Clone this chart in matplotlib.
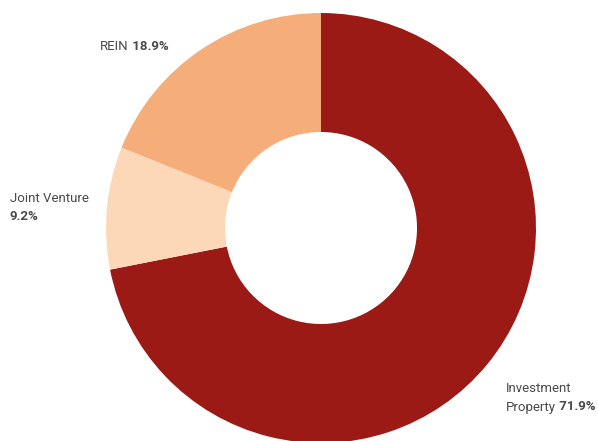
import matplotlib
matplotlib.use("Agg")
import matplotlib.pyplot as plt

labels = ["Investment Property", "Joint Venture", "REIN"]
values = [71.9, 9.2, 18.9]
colors = ["#9b1a16", "#fcd8b8", "#f5ad7a"]

plt.rcParams["font.family"] = ["Roboto", "DejaVu Sans"]
text_color = "#4a4a4a"

fig = plt.figure(figsize=(5.98, 4.41), dpi=100)
ax = fig.add_axes([0, 0, 1, 1])

# pixel-like coordinates, y up
cx, cy, r = 321, 441 - 228, 215
ax.pie(values, colors=colors, startangle=90, counterclock=False,
       center=(cx, cy), radius=r,
       wedgeprops=dict(width=r - 96, linewidth=0))
ax.set_xlim(0, 598)
ax.set_ylim(0, 441)
ax.set_aspect("equal")
ax.axis("off")


def label(x, y, name, pct, ha="left"):
    t = ax.text(x, y, name, fontsize=9.5, color=text_color, va="center", ha=ha)
    ax.annotate(" " + pct, xy=(1, 0.5), xycoords=t, va="center", ha="left",
                fontsize=9.5, fontweight="bold", color=text_color)


# REIN
label(100, 441 - 46, "REIN", f"{values[2]}%")
# Joint Venture (two lines)
ax.text(10, 441 - 198, "Joint Venture", fontsize=9.5, color=text_color, va="center")
ax.text(10, 441 - 217, f"{values[1]}%", fontsize=9.5, color=text_color,
        va="center", fontweight="bold")
# Investment Property
ax.text(506, 441 - 388, "Investment", fontsize=9.5, color=text_color, va="center")
label(506, 441 - 407, "Property", f"{values[0]}%")

fig.savefig("out.png", dpi=100)
